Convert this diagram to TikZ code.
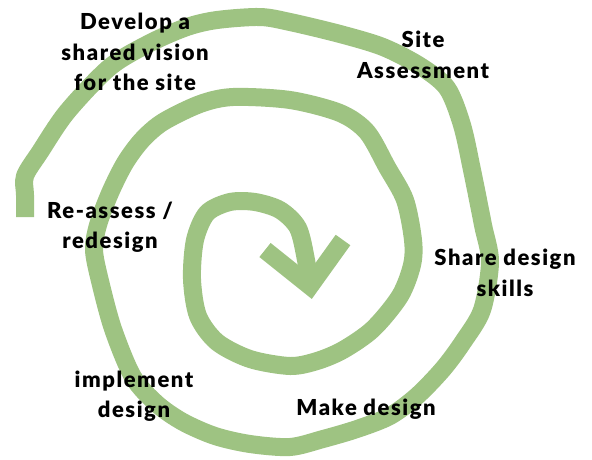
\documentclass[tikz,border=0pt]{standalone}
\usepackage{fontspec}
\setmainfont{Lato}[BoldFont={Lato Black},BoldFeatures={LetterSpace=7}]
\begin{document}
\begin{tikzpicture}[x=1pt,y=-1pt,
  spiral/.style={draw=spiralgreen,line width=18pt,line join=round},
  lbl/.style={font=\fontsize{22}{30.5}\selectfont\bfseries,align=center,text=black,inner sep=0pt}]
\definecolor{spiralgreen}{RGB}{158,195,130}
\useasboundingbox (0,0) rectangle (592,459);
\draw[spiral] plot[smooth,tension=0.5] coordinates {
 (25,217) (25,195) (25,176) (40,152) (67,112) (110,67) (150,43) (187,27) (217,20) (260,17)
 (290,22) (340,34) (383,47) (420,66) (447,88) (462,125) (472,170) (483,225)
 (490,262) (482,310) (463,342) (443,369) (417,396) (390,416) (357,429) (323,439)
 (290,447) (250,444) (215,436) (183,422) (157,404) (133,377) (113,329) (100,281)
 (94,250) (98,225) (110,193) (125,163) (142,140) (163,122) (200,104) (233,97)
 (290,100) (340,113) (367,132) (387,167) (405,200) (413,240) (412,265) (400,296)
 (373,329) (343,350) (317,361) (290,366) (250,359) (217,342) (198,316) (192,279)
 (195,240) (207,213) (230,202) (255,202) (280,210) (298,228) (306,260) (309,283)};
\draw[spiral,line join=miter] (265,250) -- (310,286) -- (343,240);
\node[lbl] (vision) at (135,52) {Develop a\\shared vision\\for the site};
\node[lbl] (site) at (423,55) {Site\\Assessment};
\node[lbl] (share) at (505,273) {Share design\\skills};
\node[lbl] (make) at (366,409) {Make design};
\node[lbl] (impl) at (134,396) {implement\\design};
\node[lbl] (reassess) at (110,227) {Re-assess /\\redesign};
\end{tikzpicture}
\end{document}
